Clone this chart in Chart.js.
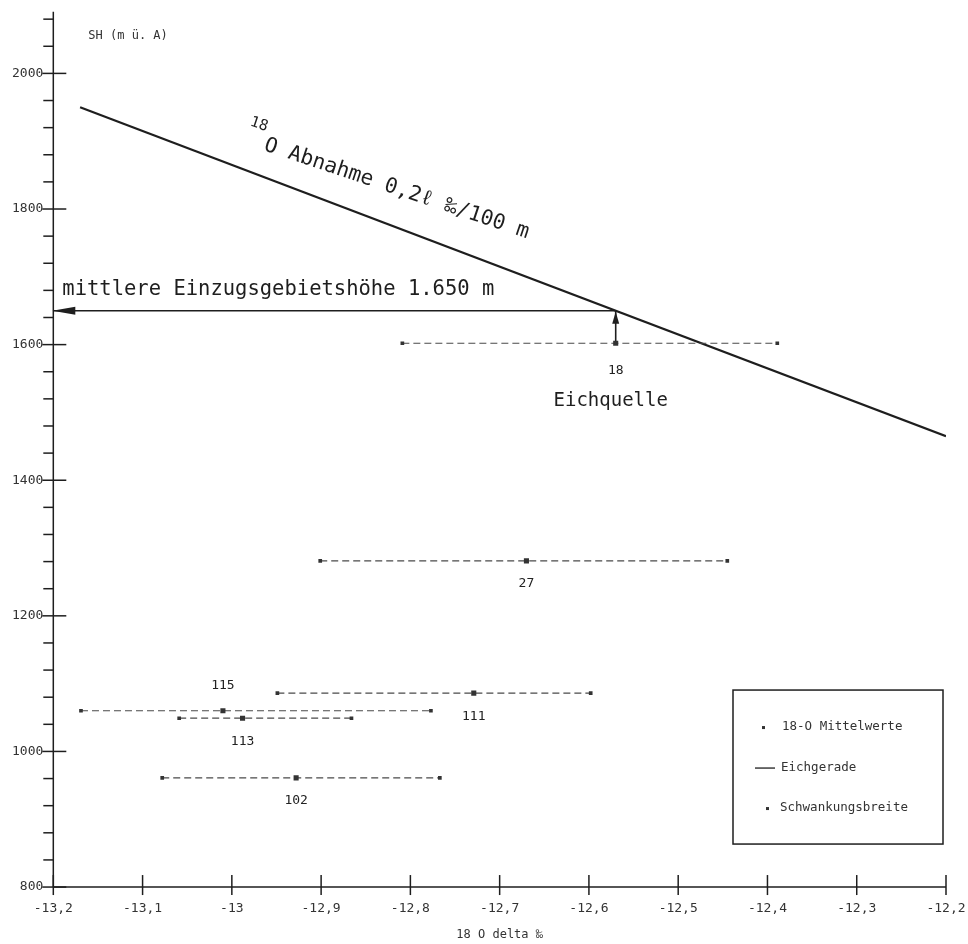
<!DOCTYPE html>
<html>
<head>
<meta charset="utf-8">
<title>18-O Eichgerade</title>
<script src="https://cdn.jsdelivr.net/npm/chart.js@4.4.1/dist/chart.umd.min.js"></script>
<style>
  html, body { margin: 0; padding: 0; background: #fff; }
</style>
</head>
<body>
<canvas id="grafico" width="968" height="944"></canvas>
<script>
// Messstellen: 18-O Mittelwert und Schwankungsbreite
const quellen = ['115', '113', '111', '102', '27', '18'];
const seehoehe = [1060, 1049, 1086, 961, 1281, 1602];
const mittelwert = [-13.01, -12.988, -12.729, -12.928, -12.67, -12.57];
const minimum = [-13.169, -13.059, -12.949, -13.078, -12.901, -12.809];
const maximum = [-12.777, -12.866, -12.598, -12.767, -12.445, -12.389];

// Eichgerade (0,2 ‰ / 100 m)
const eichX = [-13.17, -12.2];
const eichY = [1950, 1465];

// mittlere Einzugsgebietshoehe ueber der Eichquelle
const einzugHoehe = 1650;
const eichquelleX = -12.57;

const xTickWerte = [-13.2, -13.1, -13, -12.9, -12.8, -12.7, -12.6, -12.5, -12.4, -12.3, -12.2];
const xTickLabels = ['-13,2', '-13,1', '-13', '-12,9', '-12,8', '-12,7', '-12,6', '-12,5', '-12,4', '-12,3', '-12,2'];
const yTickLabels = ['800', '1000', '1200', '1400', '1600', '1800', '2000'];

const tinte = '#1e1e1e';
const mono = '"DejaVu Sans Mono", "Liberation Mono", monospace';

function linie(ctx, x1, y1, x2, y2) {
  ctx.beginPath();
  ctx.moveTo(x1, y1);
  ctx.lineTo(x2, y2);
  ctx.stroke();
}

const zeichnung = {
  id: 'zeichnung',
  afterDatasetsDraw(chart) {
    const { ctx, chartArea: a, scales: { x, y } } = chart;
    ctx.save();
    ctx.strokeStyle = tinte;
    ctx.fillStyle = tinte;
    ctx.lineWidth = 1.5;

    // Achsen mit Teilstrichen
    linie(ctx, a.left, a.top - 6, a.left, a.bottom);
    linie(ctx, a.left, a.bottom, a.right, a.bottom);
    y.ticks.forEach(t => {
      const py = y.getPixelForValue(t.value);
      if (t.value % 200 === 0) linie(ctx, a.left - 11, py, a.left + 13, py);
      else linie(ctx, a.left - 10, py, a.left, py);
    });
    x.ticks.forEach(t => {
      const px = x.getPixelForValue(t.value);
      linie(ctx, px, a.bottom - 12, px, a.bottom + 8);
    });

    // Achsbeschriftung oben links
    ctx.font = '12px ' + mono;
    ctx.fillStyle = '#333';
    ctx.textAlign = 'left';
    ctx.textBaseline = 'middle';
    ctx.fillText('SH (m ü. A)', a.left + 35, a.top + 18);

    // Nummern der Quellen
    ctx.font = '13px ' + mono;
    ctx.fillStyle = '#222';
    ctx.textAlign = 'center';
    quellen.forEach((q, i) => {
      const px = x.getPixelForValue(mittelwert[i]);
      const py = y.getPixelForValue(seehoehe[i]);
      const dy = q === '115' ? -25 : (q === '18' ? 27 : 23);
      ctx.fillText(q, px, py + dy);
    });

    // Pfeile zur Einzugsgebietshoehe
    const ax = x.getPixelForValue(eichquelleX);
    const ay = y.getPixelForValue(einzugHoehe);
    ctx.fillStyle = tinte;
    ctx.beginPath();
    ctx.moveTo(a.left - 1, ay);
    ctx.lineTo(a.left + 22, ay - 4);
    ctx.lineTo(a.left + 22, ay + 4);
    ctx.closePath();
    ctx.fill();
    ctx.beginPath();
    ctx.moveTo(ax, ay + 1);
    ctx.lineTo(ax - 3.5, ay + 13);
    ctx.lineTo(ax + 3.5, ay + 13);
    ctx.closePath();
    ctx.fill();

    ctx.textAlign = 'left';
    ctx.textBaseline = 'alphabetic';
    ctx.font = '20.5px ' + mono;
    ctx.fillText('mittlere Einzugsgebietshöhe 1.650 m', a.left + 9, ay - 16);

    const q18 = quellen.indexOf('18');
    ctx.font = '19px ' + mono;
    ctx.textAlign = 'center';
    ctx.fillText('Eichquelle', x.getPixelForValue(mittelwert[q18]) - 5, y.getPixelForValue(seehoehe[q18]) + 63);

    // schraege Beschriftung der Eichgerade
    ctx.save();
    ctx.translate(x.getPixelForValue(-12.965), y.getPixelForValue(1887));
    ctx.rotate(18.5 * Math.PI / 180);
    ctx.textAlign = 'left';
    ctx.font = '15px ' + mono;
    ctx.fillText('18', -21, -19);
    ctx.font = '21px ' + mono;
    ctx.fillText('O Abnahme 0,2ℓ ‰/100 m', 0, 0);
    ctx.restore();

    // Legende
    const bx = a.right - 213, by = a.bottom - 197, bw = 210, bh = 154;
    ctx.lineWidth = 1.5;
    ctx.strokeRect(bx, by, bw, bh);
    ctx.font = '12.5px ' + mono;
    ctx.fillStyle = '#333';
    ctx.textAlign = 'left';
    ctx.textBaseline = 'middle';
    ctx.fillRect(bx + 29, by + 36, 3, 3);
    ctx.fillText('18-O Mittelwerte', bx + 49, by + 37);
    ctx.lineWidth = 1.3;
    linie(ctx, bx + 22, by + 78, bx + 42, by + 78);
    ctx.fillText('Eichgerade', bx + 48, by + 78);
    ctx.fillRect(bx + 33, by + 117, 3, 3);
    ctx.fillText('Schwankungsbreite', bx + 47, by + 118);

    ctx.restore();
  }
};

const datasets = [];
quellen.forEach((q, i) => {
  datasets.push({
    label: q,
    data: [
      { x: minimum[i], y: seehoehe[i] },
      { x: mittelwert[i], y: seehoehe[i] },
      { x: maximum[i], y: seehoehe[i] }
    ],
    showLine: true,
    borderColor: '#4a4a4a',
    borderWidth: 1.2,
    borderDash: [7, 4],
    pointStyle: 'rect',
    pointRadius: [2.6, 3.6, 2.6],
    pointBackgroundColor: '#333',
    pointBorderWidth: 0
  });
});
datasets.push({
  label: 'Eichgerade',
  data: eichX.map((v, i) => ({ x: v, y: eichY[i] })),
  showLine: true,
  borderColor: tinte,
  borderWidth: 2.2,
  pointRadius: 0
});
datasets.push({
  label: 'Einzugsgebietshoehe',
  data: [{ x: eichquelleX, y: einzugHoehe }, { x: xTickWerte[0], y: einzugHoehe }],
  showLine: true,
  borderColor: tinte,
  borderWidth: 1.6,
  pointRadius: 0
});
datasets.push({
  label: 'Eichquelle',
  data: [{ x: eichquelleX, y: seehoehe[quellen.indexOf('18')] }, { x: eichquelleX, y: einzugHoehe }],
  showLine: true,
  borderColor: tinte,
  borderWidth: 1.6,
  pointRadius: 0
});

new Chart(document.getElementById('grafico'), {
  type: 'scatter',
  data: { datasets },
  options: {
    responsive: false,
    animation: false,
    devicePixelRatio: 1,
    layout: { padding: { left: 2, right: 22, top: 4, bottom: 2 } },
    plugins: { legend: { display: false }, tooltip: { enabled: false } },
    scales: {
      x: {
        type: 'linear',
        min: -13.2,
        max: -12.2,
        afterBuildTicks: s => { s.ticks = xTickWerte.map(v => ({ value: v })); },
        grid: { display: false, drawTicks: false },
        border: { display: false },
        ticks: {
          callback: (v, i) => xTickLabels[i],
          font: { family: mono, size: 13, lineHeight: 3.35 },
          color: '#333',
          padding: 0,
          maxRotation: 0,
          autoSkip: false
        },
        title: {
          display: true,
          text: '18 O delta ‰',
          font: { family: mono, size: 12 },
          color: '#333',
          padding: { top: -3, bottom: 0 }
        }
      },
      y: {
        type: 'linear',
        min: 800,
        max: 2082,
        grid: { display: false, drawTicks: false },
        border: { display: false },
        ticks: {
          stepSize: 40,
          includeBounds: false,
          autoSkip: false,
          callback: v => v % 200 === 0 ? yTickLabels[(v - 800) / 200] : '',
          font: { family: mono, size: 13 },
          color: '#333',
          padding: 10
        }
      }
    }
  },
  plugins: [zeichnung]
});
</script>
</body>
</html>
